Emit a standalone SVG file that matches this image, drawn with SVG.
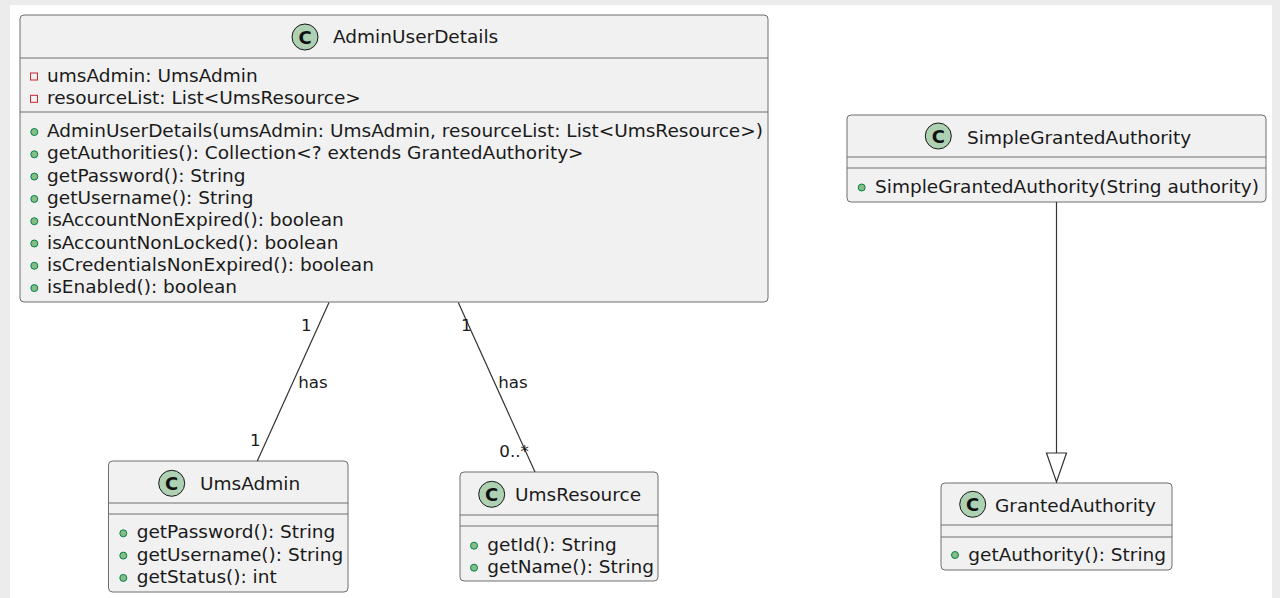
<svg xmlns="http://www.w3.org/2000/svg" width="1280" height="598" viewBox="0 0 1280 598">
<style>
.box{fill:#f1f1f1;stroke:#6e6e6e;stroke-width:1}
.sep{stroke:#6e6e6e;stroke-width:1}
.t{font-family:"DejaVu Sans",sans-serif;font-size:18.5px;fill:#1a1a1a}
.lbl{font-family:"DejaVu Sans",sans-serif;font-size:16.7px;fill:#1a1a1a}
.ic{fill:#add1b2;stroke:#181818;stroke-width:1}
.icl{font-family:"DejaVu Sans",sans-serif;font-weight:bold;font-size:18px;fill:#111;text-anchor:middle}
.pub{fill:#84be84;stroke:#038048;stroke-width:1}
.priv{fill:none;stroke:#c82930;stroke-width:1}
.ln{stroke:#333;stroke-width:1.2;fill:none}
</style>
<rect x="0" y="0" width="1280" height="598" fill="#ececec"/>
<rect x="10" y="5" width="1262" height="593" fill="#ffffff"/>

<g id="AdminUserDetails">
<rect class="box" x="20" y="15" width="748" height="287" rx="4"/>
<line class="sep" x1="20" y1="58" x2="768" y2="58"/>
<line class="sep" x1="20" y1="112" x2="768" y2="112"/>
<circle class="ic" cx="305" cy="37" r="13"/>
<text class="icl" x="305" y="43.5">C</text>
<text class="t" x="333" y="43">AdminUserDetails</text>
<rect class="priv" x="30.5" y="73" width="7" height="7"/>
<text class="t" x="47" y="82">umsAdmin: UmsAdmin</text>
<rect class="priv" x="30.5" y="95.3" width="7" height="7"/>
<text class="t" x="47" y="104.3">resourceList: List&lt;UmsResource&gt;</text>
<circle class="pub" cx="34.3" cy="132" r="3.5"/>
<text class="t" x="47" y="137">AdminUserDetails(umsAdmin: UmsAdmin, resourceList: List&lt;UmsResource&gt;)</text>
<circle class="pub" cx="34.3" cy="154.3" r="3.5"/>
<text class="t" x="47" y="159.3">getAuthorities(): Collection&lt;? extends GrantedAuthority&gt;</text>
<circle class="pub" cx="34.3" cy="176.6" r="3.5"/>
<text class="t" x="47" y="181.6">getPassword(): String</text>
<circle class="pub" cx="34.3" cy="198.9" r="3.5"/>
<text class="t" x="47" y="203.9">getUsername(): String</text>
<circle class="pub" cx="34.3" cy="221.2" r="3.5"/>
<text class="t" x="47" y="226.2">isAccountNonExpired(): boolean</text>
<circle class="pub" cx="34.3" cy="243.5" r="3.5"/>
<text class="t" x="47" y="248.5">isAccountNonLocked(): boolean</text>
<circle class="pub" cx="34.3" cy="265.8" r="3.5"/>
<text class="t" x="47" y="270.8">isCredentialsNonExpired(): boolean</text>
<circle class="pub" cx="34.3" cy="288.1" r="3.5"/>
<text class="t" x="47" y="293.1">isEnabled(): boolean</text>
</g>

<g id="SimpleGrantedAuthority">
<rect class="box" x="847" y="115" width="419" height="87" rx="4"/>
<line class="sep" x1="847" y1="157" x2="1266" y2="157"/>
<line class="sep" x1="847" y1="168" x2="1266" y2="168"/>
<circle class="ic" cx="938.3" cy="136" r="13"/>
<text class="icl" x="938.3" y="142.5">C</text>
<text class="t" x="967" y="143.5">SimpleGrantedAuthority</text>
<circle class="pub" cx="861.7" cy="187.5" r="3.5"/>
<text class="t" x="875" y="193">SimpleGrantedAuthority(String authority)</text>
</g>

<g id="UmsAdmin">
<rect class="box" x="108.5" y="461" width="239.5" height="131" rx="4"/>
<line class="sep" x1="108.5" y1="503" x2="348" y2="503"/>
<line class="sep" x1="108.5" y1="514" x2="348" y2="514"/>
<circle class="ic" cx="171.7" cy="483.3" r="13"/>
<text class="icl" x="171.7" y="489.8">C</text>
<text class="t" x="200" y="489.5">UmsAdmin</text>
<circle class="pub" cx="123.3" cy="533.3" r="3.5"/>
<text class="t" x="136.7" y="538.3">getPassword(): String</text>
<circle class="pub" cx="123.3" cy="555.6" r="3.5"/>
<text class="t" x="136.7" y="560.6">getUsername(): String</text>
<circle class="pub" cx="123.3" cy="577.9" r="3.5"/>
<text class="t" x="136.7" y="582.9">getStatus(): int</text>
</g>

<g id="UmsResource">
<rect class="box" x="460" y="472" width="198" height="109" rx="4"/>
<line class="sep" x1="460" y1="515" x2="658" y2="515"/>
<line class="sep" x1="460" y1="526" x2="658" y2="526"/>
<circle class="ic" cx="491.7" cy="494.3" r="13"/>
<text class="icl" x="491.7" y="500.8">C</text>
<text class="t" x="515" y="500.5">UmsResource</text>
<circle class="pub" cx="474" cy="545.7" r="3.5"/>
<text class="t" x="487.3" y="550.7">getId(): String</text>
<circle class="pub" cx="474" cy="567.7" r="3.5"/>
<text class="t" x="487.3" y="572.7">getName(): String</text>
</g>

<g id="GrantedAuthority">
<rect class="box" x="941" y="483" width="231" height="87" rx="4"/>
<line class="sep" x1="941" y1="525" x2="1172" y2="525"/>
<line class="sep" x1="941" y1="537" x2="1172" y2="537"/>
<circle class="ic" cx="972.7" cy="504.3" r="13"/>
<text class="icl" x="972.7" y="510.8">C</text>
<text class="t" x="995" y="511.5">GrantedAuthority</text>
<circle class="pub" cx="955" cy="555" r="3.5"/>
<text class="t" x="968.3" y="560.7">getAuthority(): String</text>
</g>

<g id="connectors">
<line class="ln" x1="329" y1="302.5" x2="257.3" y2="461"/>
<text class="lbl" x="301" y="330.7">1</text>
<text class="lbl" x="298.3" y="388.3">has</text>
<text class="lbl" x="250" y="446">1</text>
<line class="ln" x1="458.3" y1="302.5" x2="535" y2="472"/>
<text class="lbl" x="461" y="330.7">1</text>
<text class="lbl" x="498.3" y="388.3">has</text>
<text class="lbl" x="499.3" y="457.3">0..*</text>
<line class="ln" x1="1056.5" y1="202" x2="1056.5" y2="453"/>
<polygon points="1046.5,453 1066.5,453 1056.5,482" fill="#ffffff" stroke="#333" stroke-width="1.2"/>
</g>
</svg>
